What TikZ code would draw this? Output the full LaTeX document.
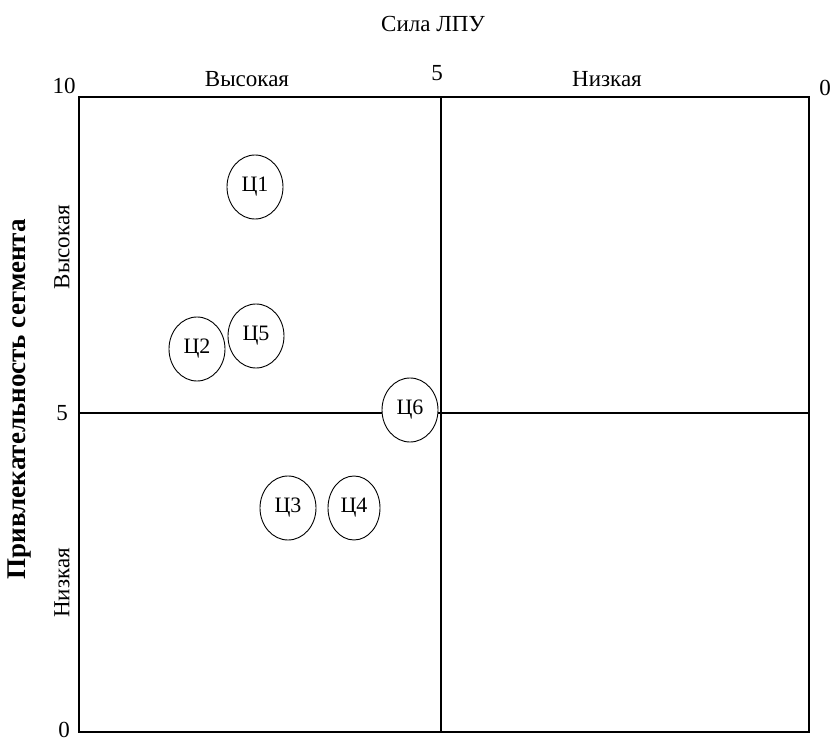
\documentclass[tikz,border=0pt]{standalone}
\usepackage{fontspec}
\setmainfont{Liberation Serif}
\usetikzlibrary{shapes.geometric}
\begin{document}
\begin{tikzpicture}[x=1pt,y=-1pt,
  lbl/.style={inner sep=0pt, font=\fontsize{23}{26}\selectfont},
  target/.style={draw, fill=white, ellipse, line width=0.9pt, minimum width=56pt, minimum height=64pt, inner sep=0pt, font=\fontsize{22}{25}\selectfont},
  frame/.style={line width=1.4pt}]
\useasboundingbox (0,0) rectangle (832,743);
% quadrant frame
\coordinate (tl) at (79,97);
\coordinate (br) at (809,732);
\coordinate (tm) at (441,97);
\coordinate (bm) at (441,732);
\coordinate (lm) at (79,413);
\coordinate (rm) at (809,413);
\draw[frame] (tl) rectangle (br);
\draw[frame] (tm) -- (bm);
\draw[frame] (lm) -- (rm);
% axis titles
\node[lbl] (xtitle) at (433,24) {Сила ЛПУ};
\node[lbl, rotate=90, font=\fontsize{27}{30}\selectfont\bfseries] (ytitle) at (20,399) {Привлекательность сегмента};
% top scale
\node[lbl] (x10) at (64,86) {10};
\node[lbl] (xhigh) at (247,79) {Высокая};
\node[lbl] (x5) at (437,73) {5};
\node[lbl] (xlow) at (607,79) {Низкая};
\node[lbl] (x0) at (825,88) {0};
% left scale
\node[lbl, rotate=90] (yhigh) at (62,247) {Высокая};
\node[lbl] (y5) at (62,413) {5};
\node[lbl, rotate=90] (ylow) at (62,583) {Низкая};
\node[lbl] (y0) at (64,730) {0};
% targets
\node[target] (c1) at (255,187) {Ц1};
\node[target] (c2) at (197,349) {Ц2};
\node[target] (c5) at (256,336) {Ц5};
\node[target] (c6) at (410,410) {Ц6};
\node[target] (c3) at (288,508) {Ц3};
\node[target, minimum width=52pt] (c4) at (354,508) {Ц4};
\end{tikzpicture}
\end{document}
